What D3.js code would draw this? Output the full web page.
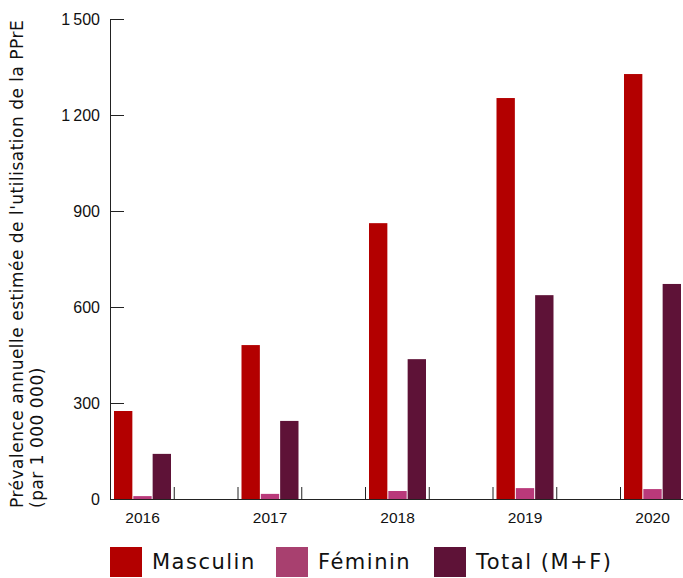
<!DOCTYPE html>
<html>
<head>
<meta charset="utf-8">
<script src="https://cdn.jsdelivr.net/npm/d3@7"></script>
<style>
  body { margin: 0; background: #fff; }
  svg { font-family: "DejaVu Sans", sans-serif; }
  .axis path, .axis line { stroke: #222; }
</style>
</head>
<body>
<svg id="chart" width="683" height="578"></svg>
<script>
const years = ["2016", "2017", "2018", "2019", "2020"];
const seriesNames = ["Masculin", "Féminin", "Total (M+F)"];
const masculin = [275, 481, 862, 1253, 1328];
const feminin = [9, 16, 25, 34, 31];
const total = [141, 244, 437, 637, 672];
const yTicks = [0, 300, 600, 900, 1200, 1500];
const colors = ["#b30000", "#b9397a", "#5e1237"];
const legendColors = ["#b30000", "#a8406f", "#5e1237"];

const svg = d3.select("#chart");
const left = 110, bandW = 127.5;
const y0 = 499, y1 = 19;

const rows = years.map((yr, i) => ({
  year: yr,
  values: [masculin[i], feminin[i], total[i]],
}));

const x0 = d3
  .scaleBand()
  .domain(years)
  .range([left, left + bandW * years.length]);

const x1 = d3
  .scaleBand()
  .domain(seriesNames)
  .range([4, 61])
  .paddingInner(0.05);

const y = d3.scaleLinear().domain([0, 1500]).range([y0, y1]);

const fr = d3.formatLocale({ decimal: ",", thousands: "\u202f", grouping: [3], currency: ["", " €"] });

// bars
const groups = svg
  .selectAll(".group")
  .data(rows)
  .enter()
  .append("g")
  .attr("class", "group")
  .attr("transform", (d) => `translate(${x0(d.year)},0)`);

groups
  .selectAll("rect")
  .data((d) => d.values.map((v, k) => ({ key: seriesNames[k], value: v, k })))
  .enter()
  .append("rect")
  .attr("x", (d) => x1(d.key))
  .attr("y", (d) => y(d.value))
  .attr("width", x1.bandwidth())
  .attr("height", (d) => y0 - y(d.value))
  .attr("fill", (d) => colors[d.k]);

// x ticks at every half band, pointing up
const xt = d3.scaleLinear().domain([0, years.length]).range(x0.range());
svg
  .append("g")
  .attr("class", "axis")
  .attr("transform", `translate(0,${y0})`)
  .call(
    d3.axisBottom(xt)
      .tickValues(d3.range(0, years.length + 0.01, 0.5))
      .tickSize(-12)
      .tickSizeOuter(0)
      .tickFormat("")
  );

// x labels centred under each group of bars
const mid = (x1.range()[0] + x1.range()[1]) / 2;
svg
  .append("g")
  .attr("class", "axis")
  .attr("transform", `translate(${mid - x0.bandwidth() / 2},${y0})`)
  .call(d3.axisBottom(x0).tickSize(0).tickPadding(13))
  .call((g) => g.select(".domain").remove())
  .selectAll("text")
  .attr("font-size", 15.5)
  .attr("fill", "#111");

// y axis
svg
  .append("g")
  .attr("class", "axis")
  .attr("transform", `translate(${left},0)`)
  .call(
    d3.axisLeft(y)
      .tickValues(yTicks)
      .tickSize(-14)
      .tickSizeOuter(0)
      .tickPadding(10)
      .tickFormat(fr.format(","))
  )
  .selectAll("text")
  .attr("font-size", 16)
  .attr("fill", "#111");

// y title
const title = svg
  .append("text")
  .attr("transform", "rotate(-90)")
  .attr("font-size", 17)
  .attr("letter-spacing", 0.5)
  .attr("fill", "#111")
  .attr("text-anchor", "start");
title.append("tspan").attr("x", -508).attr("y", 23)
  .text("Prévalence annuelle estimée de l'utilisation de la PPrE");
title.append("tspan").attr("x", -508).attr("y", 43).text("(par 1 000 000)");

// legend
const legendX = [110, 276, 434];
const legend = svg
  .selectAll(".legend")
  .data(seriesNames)
  .enter()
  .append("g")
  .attr("class", "legend")
  .attr("transform", (d, i) => `translate(${legendX[i]},547)`);

legend
  .append("rect")
  .attr("width", 32)
  .attr("height", 30)
  .attr("fill", (d, i) => legendColors[i]);

legend
  .append("text")
  .attr("x", 42)
  .attr("y", 22)
  .attr("font-size", 21)
  .attr("letter-spacing", 1.5)
  .attr("fill", "#111")
  .text((d) => d);
</script>
</body>
</html>
